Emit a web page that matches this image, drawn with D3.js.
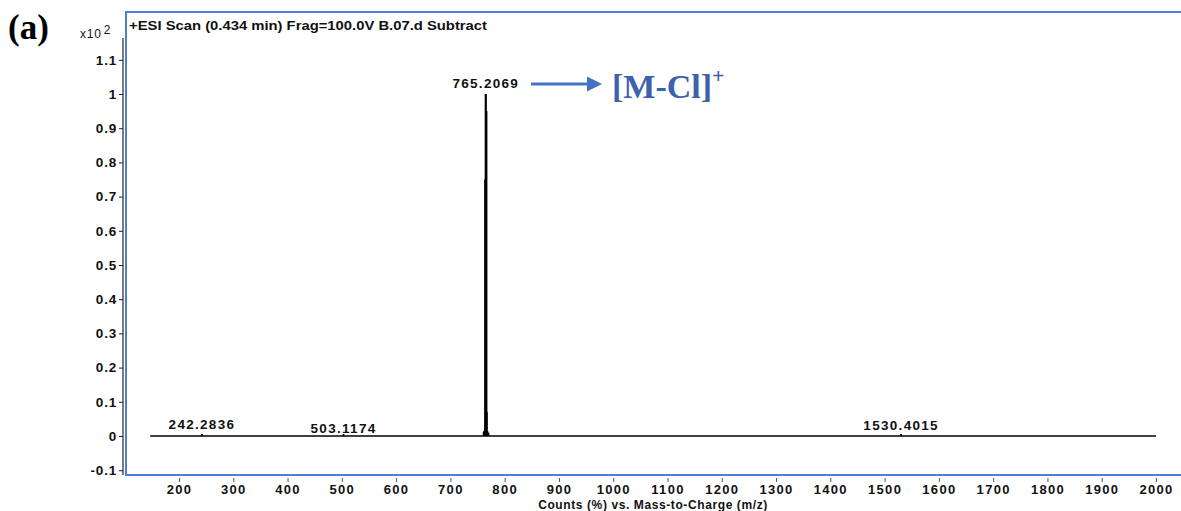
<!DOCTYPE html>
<html>
<head>
<meta charset="utf-8">
<script src="https://cdn.jsdelivr.net/npm/d3@7"></script>
<style>
  body { margin: 0; background: #fff; }
  svg { display: block; }
  .tick text { font-family: Arial, "Liberation Sans", sans-serif; font-weight: bold; font-size: 13.5px; fill: #111; }
</style>
</head>
<body>
<svg id="chart" width="1181" height="511"></svg>
<script>
// spectrum data (m/z, relative counts x10^2)
const peakMz  = [242.2836, 503.1174, 761.2, 762.2, 764.2, 765.2069, 766.2, 767.2, 768.2, 770.2, 1530.4015];
const peakInt = [0.006,    0.002,    0.012, 0.015, 0.75,  1.0,      0.95,  0.07,  0.015, 0.01,  0.004];
const baseRange = [147, 2000];

// labelled peaks
const labelMz   = [242.2836, 503.1174, 765.2069, 1530.4015];
const labelText = ["242.2836", "503.1174", "765.2069", "1530.4015"];
const labelInt  = [0.006, 0.0, 1.0, 0.004];

const xTicks = d3.range(200, 2001, 100);
const yTicks = [-0.1, 0, 0.1, 0.2, 0.3, 0.4, 0.5, 0.6, 0.7, 0.8, 0.9, 1, 1.1];

const svg = d3.select("#chart");
const blue = "#4d7fd3";

const x = d3.scaleLinear().domain([200, 2000]).range([179, 1156]);
const y = d3.scaleLinear().domain([0, 1]).range([436, 94]);

// frame
const frameLeft = 126, frameTop = 12, frameBottom = 475;
svg.append("path")
  .attr("d", `M1181,${frameTop}H${frameLeft}V${frameBottom}H1181`)
  .attr("fill", "none").attr("stroke", blue).attr("stroke-width", 2);

// y axis
const yAxis = svg.append("g")
  .attr("transform", "translate(123,0)")
  .call(d3.axisLeft(y).tickValues(yTicks).tickSize(4).tickPadding(2)
    .tickFormat(d => String(+d.toFixed(1))));
yAxis.select(".domain").remove();
yAxis.selectAll(".tick line").attr("stroke", "#222");
yAxis.selectAll(".tick text").attr("letter-spacing", "0.8px");
svg.append("line")
  .attr("x1", 123).attr("x2", 123).attr("y1", 38).attr("y2", frameBottom)
  .attr("stroke", "#222").attr("stroke-width", 1.2);

// x axis
const xAxis = svg.append("g")
  .attr("transform", `translate(0,${frameBottom + 3})`)
  .call(d3.axisBottom(x).tickValues(xTicks).tickSize(4).tickPadding(3)
    .tickFormat(d3.format("d")));
xAxis.select(".domain").remove();
xAxis.selectAll(".tick line").attr("stroke", "#555");
xAxis.selectAll(".tick text").attr("letter-spacing", "1.3px").style("font-size", "13px");

// baseline
svg.append("line")
  .attr("x1", x(baseRange[0])).attr("x2", x(baseRange[1]))
  .attr("y1", y(0)).attr("y2", y(0))
  .attr("stroke", "#000").attr("stroke-width", 1.3);

// peaks as sticks
svg.append("g").selectAll("line")
  .data(peakMz.map((m, i) => ({m, v: peakInt[i]})))
  .join("line")
  .attr("x1", d => x(d.m)).attr("x2", d => x(d.m))
  .attr("y1", y(0)).attr("y2", d => Math.min(y(d.v), y(0) - 2))
  .attr("stroke", "#000")
  .attr("stroke-width", d => d.v > 0.5 ? 2.2 : 1.8);

// peak labels
svg.append("g").selectAll("text")
  .data(labelMz.map((m, i) => ({m, t: labelText[i], v: labelInt[i]})))
  .join("text")
  .attr("x", d => x(d.m))
  .attr("y", d => y(d.v) - (d.v > 0.5 ? 6 : 5) + (d.t === "503.1174" ? 2 : 0))
  .attr("text-anchor", "middle")
  .attr("font-family", "Arial, 'Liberation Sans', sans-serif")
  .attr("font-weight", "bold").attr("font-size", 13.5)
  .attr("letter-spacing", "1.3px")
  .attr("fill", "#111")
  .text(d => d.t);

// title
svg.append("text")
  .attr("x", 129).attr("y", 30)
  .attr("font-family", "Arial, 'Liberation Sans', sans-serif")
  .attr("font-weight", "bold").attr("font-size", 12.5)
  .attr("textLength", 358).attr("lengthAdjust", "spacingAndGlyphs")
  .attr("fill", "#111")
  .text("+ESI Scan (0.434 min) Frag=100.0V B.07.d Subtract");

// scale factor
const sf = svg.append("text")
  .attr("x", 80).attr("y", 38)
  .attr("font-family", "Arial, 'Liberation Sans', sans-serif")
  .attr("font-size", 12).attr("fill", "#111")
  .attr("letter-spacing", "0.8px");
sf.append("tspan").text("x10");
sf.append("tspan").attr("dx", 2).attr("dy", -4).attr("font-size", 12).text("2");

// x axis title
svg.append("text")
  .attr("x", 653).attr("y", 509)
  .attr("text-anchor", "middle")
  .attr("font-family", "Arial, 'Liberation Sans', sans-serif")
  .attr("font-weight", "bold").attr("font-size", 12)
  .attr("letter-spacing", "0.6px")
  .attr("fill", "#111")
  .text("Counts (%) vs. Mass-to-Charge (m/z)");

// panel label
svg.append("text")
  .attr("x", 8).attr("y", 39)
  .attr("font-family", "'Liberation Serif', 'Times New Roman', serif")
  .attr("font-weight", "bold").attr("font-size", 35)
  .attr("fill", "#000")
  .text("(a)");

// annotation arrow
const defs = svg.append("defs");
defs.append("marker")
  .attr("id", "head").attr("viewBox", "0 0 10 10")
  .attr("refX", 2).attr("refY", 5)
  .attr("markerWidth", 5).attr("markerHeight", 5)
  .attr("markerUnits", "strokeWidth")
  .attr("orient", "auto")
  .append("path").attr("d", "M0,0L10,5L0,10Z").attr("fill", "#4472c4");
svg.append("line")
  .attr("x1", 531).attr("x2", 590).attr("y1", 84).attr("y2", 84)
  .attr("stroke", "#4472c4").attr("stroke-width", 3)
  .attr("marker-end", "url(#head)");

const ann = svg.append("text")
  .attr("x", 612).attr("y", 98)
  .attr("font-family", "'Liberation Serif', 'Times New Roman', serif")
  .attr("font-weight", "bold").attr("font-size", 34)
  .attr("fill", "#3c62ad");
ann.append("tspan").text("[M-Cl]");
ann.append("tspan").attr("dy", -15).attr("font-size", 22).text("+");
</script>
</body>
</html>
